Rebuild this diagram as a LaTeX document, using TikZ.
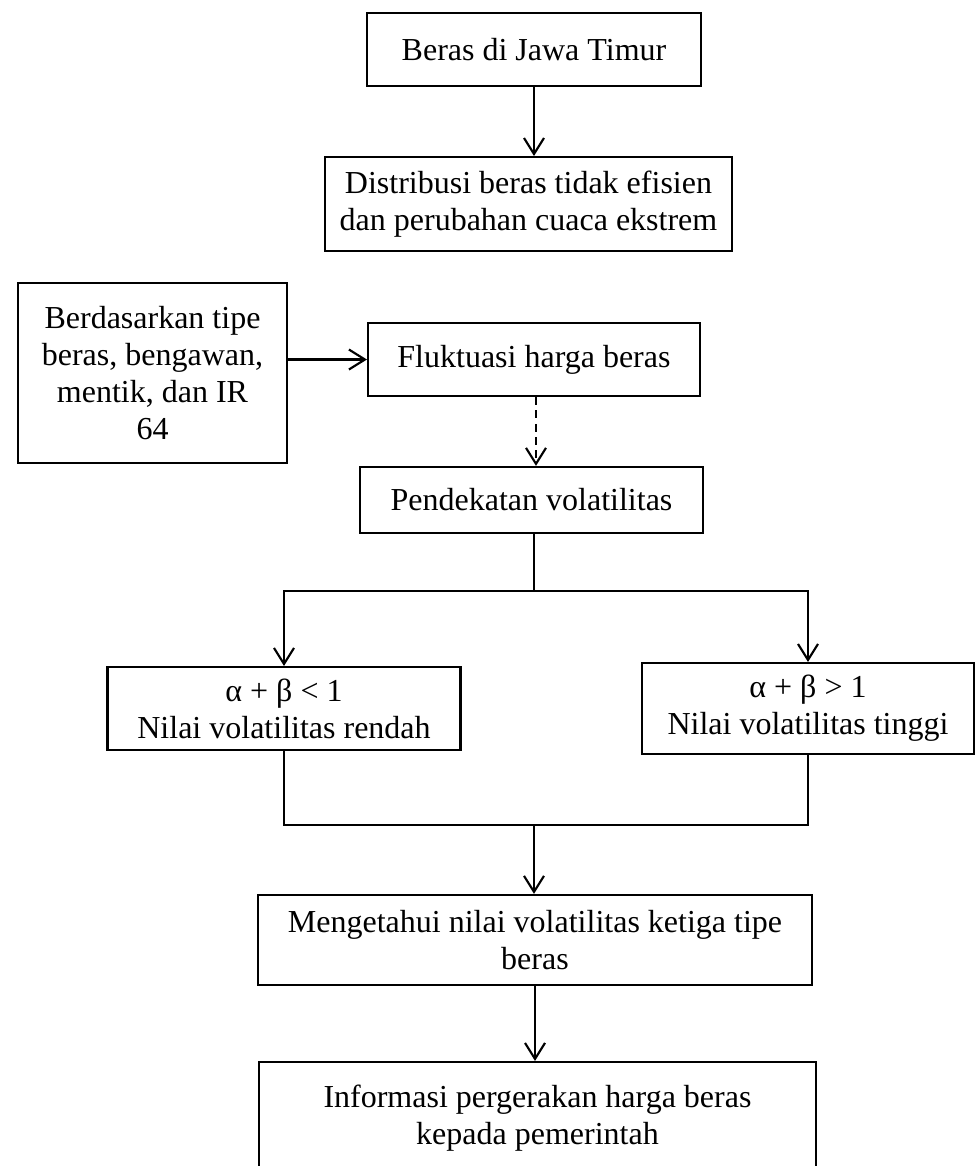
\documentclass[tikz,border=0pt]{standalone}
\usepackage{fontspec}
\setmainfont{Liberation Serif}
\usetikzlibrary{arrows.meta}

\begin{document}
\begin{tikzpicture}[
    x=0.375pt, y=-0.375pt,
    every node/.style={font=\fontsize{12}{13.8}\selectfont},
    block/.style={rectangle, draw, align=center, inner sep=0pt, line width=0.8pt},
    line/.style={draw, -{Straight Barb[length=6pt,width=7.5pt]}, line width=0.8pt}
]
\clip (0,0) rectangle (976,1166);
\fill[white] (0,0) rectangle (976,1166);

\node [block, minimum width=125.2pt, minimum height=27.4pt] (beras) at (534,49.5) {Beras di Jawa Timur};
\node [block, minimum width=152.6pt, minimum height=35.2pt] (distribusi) at (528.5,204) {Distribusi beras tidak efisien\\dan perubahan cuaca ekstrem};
\node [block, minimum width=100.9pt, minimum height=67.5pt] (tipe) at (152.5,373) {Berdasarkan tipe\\beras, bengawan,\\mentik, dan IR\\64};
\node [block, minimum width=124.5pt, minimum height=27.4pt] (fluktuasi) at (534,359.5) {Fluktuasi harga beras};
\node [block, minimum width=128.6pt, minimum height=24.8pt] (pendekatan) at (531.5,500) {Pendekatan volatilitas};
\node [block, minimum width=132.4pt, minimum height=31.1pt] (rendah) at (284,708.5) {α + β < 1\\Nilai volatilitas rendah};
\node [block, minimum width=124.5pt, minimum height=34.1pt] (tinggi) at (808,708.5) {α + β > 1\\Nilai volatilitas tinggi};
\node [block, minimum width=207.8pt, minimum height=33.8pt] (mengetahui) at (535,940) {Mengetahui nilai volatilitas ketiga tipe\\beras};
\node [block, minimum width=208.9pt, minimum height=42pt] (informasi) at (537.5,1118) {Informasi pergerakan harga beras\\kepada pemerintah};

\coordinate (fork) at (534,591);
\coordinate (merge) at (534,825);

\path [line] (beras) -- (beras |- distribusi.north);
\path [line] (fluktuasi.west -| tipe.east) -- (fluktuasi.west);
\path [line, dash pattern=on 3pt off 2pt] (fluktuasi.south -| 536,0) -- (pendekatan.north -| 536,0);
\draw [line width=0.8pt] (pendekatan.south -| fork) -- (fork);
\path [line] (fork) -| (rendah);
\path [line] (fork) -| (tinggi);
\draw [line width=0.8pt] (rendah) |- (merge);
\draw [line width=0.8pt] (tinggi) |- (merge);
\path [line] (merge) -- (merge |- mengetahui.north);
\path [line] (mengetahui) -- (mengetahui |- informasi.north);

\end{tikzpicture}
\end{document}
